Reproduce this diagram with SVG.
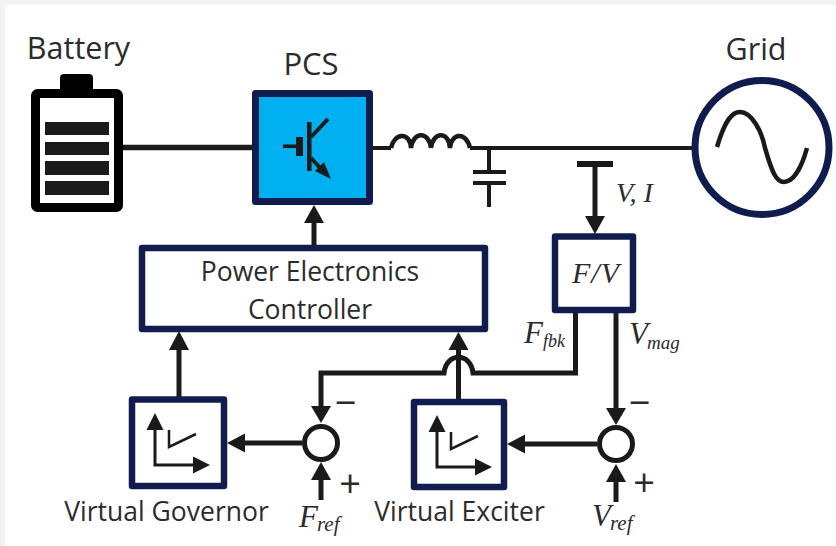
<svg xmlns="http://www.w3.org/2000/svg" width="836" height="546" viewBox="0 0 836 546">
<style>
.lbl{font-family:"Open Sans","Noto Sans",sans-serif;fill:#2b2b2b;text-anchor:middle}
.m{font-family:"Liberation Serif",serif;font-style:italic;fill:#2b2b2b}
.box{fill:#fff;stroke:#111c4e;stroke-width:6.5;stroke-linejoin:round}
.w{fill:none;stroke:#1a1a1a;stroke-width:5}
.t{fill:none;stroke:#1a1a1a;stroke-width:3}
.h{fill:#1a1a1a}
.sum{fill:#fff;stroke:#1a1a1a;stroke-width:5}
.bar{fill:#1a1a1a}
</style>
<defs>
<g id="axes"><path class="t" d="M0 12V52H42"/><path class="h" d="M0 0L-8.500 17H8.500Z"/><path class="h" d="M55 52L38 43.500V60.500Z"/><path fill="none" stroke="#1a1a1a" stroke-width="2.500" d="M14 17V34L41 21"/></g>
</defs>
<rect width="836" height="546" fill="#f2f2f2"/>
<rect x="5" y="5" width="831" height="541" fill="#fff"/>
<g id="connectors">
<path class="w" style="stroke-width:5.500" d="M123 147.500H255"/>
<path class="w" style="stroke-width:4" d="M371 148H391"/>
<path class="w" style="stroke-width:4.500" d="M391 148C394 133 410 131 411 148M411 148C413 131 429 131 431 148M431 148C433 131 449 131 450 148C451 133 466 131 470 148"/>
<path class="w" style="stroke-width:4" d="M470 148H694"/>
<path class="t" style="stroke-width:4" d="M489 148V171M473 172H506M473 183H506M489 183V207"/>
<path class="bar" d="M577 161H613V167H577Z"/>
<path class="w" d="M595 164V218"/><path class="h" d="M595 234L585 216H605Z"/>
<path class="w" d="M314 245V220"/><path class="h" d="M314 205L304 223H324Z"/>
<path class="w" d="M179 397V348"/><path class="h" d="M179 331L169 350H189Z"/>
<path class="w" d="M575.500 313V373H473C471 352 446 352 444 373H321V408"/><path class="h" d="M321 423L311 406H331Z"/>
<path class="w" d="M458.500 399V348"/><path class="h" d="M458.500 332L448.500 350H468.500Z"/>
<path class="w" d="M302 443H241"/><path class="h" d="M227 443L245 433.500V452.500Z"/>
<path class="w" d="M321 500V478"/><path class="h" d="M321 462L311 480H331Z"/>
<path class="w" d="M616 313V410"/><path class="h" d="M616 425L606 408H626Z"/>
<path class="w" d="M597 444H523"/><path class="h" d="M507 444L525 434.500V453.500Z"/>
<path class="w" d="M616 502V480"/><path class="h" d="M616 464L606 482H626Z"/>
</g>
<g id="battery">
<path d="M60 92V78Q60 74 64 74H89Q93 74 93 78V92Z" fill="#000"/>
<rect x="35.500" y="93.500" width="83" height="114" rx="2" fill="#fff" stroke="#000" stroke-width="9"/>
<rect class="bar" x="45" y="122" width="64" height="13"/><rect class="bar" x="45" y="142" width="64" height="13"/><rect class="bar" x="45" y="161" width="64" height="14"/><rect class="bar" x="45" y="181" width="64" height="14"/>
<text class="lbl" x="78.500" y="59" font-size="30.500">Battery</text>
</g>
<g id="pcs">
<rect x="255.500" y="93.500" width="114" height="108" fill="#00b0f0" stroke="#111c4e" stroke-width="7" stroke-linejoin="round"/>
<path class="bar" d="M307 122H311.500V171H307ZM296 137H303V156H296ZM283 144.500H296V148H283Z"/>
<path class="w" style="stroke-width:4" d="M311 137L328 119M311 158L322 170"/><path class="h" d="M331 179L315 171L324 162Z"/>
<text class="lbl" x="311" y="75" font-size="31">PCS</text>
</g>
<g id="grid">
<circle cx="762" cy="147.500" r="67" fill="#fff" stroke="#111c4e" stroke-width="7"/>
<path fill="none" stroke="#1a1a1a" stroke-width="4.500" d="M717 147C725 120 732 112 740 112C752 112 762 132 765 148C772 172 776 182 784 182C794 182 802 166 807 148"/>
<text class="lbl" x="756" y="60" font-size="30.500">Grid</text>
</g>
<g id="fv">
<rect class="box" x="555" y="236.500" width="78" height="73.500"/>
<text class="m" x="596" y="283" font-size="30" letter-spacing="1" text-anchor="middle">F/V</text>
</g>
<g id="controller">
<rect class="box" x="142" y="248" width="343" height="81"/>
<text class="lbl" x="310" y="281" font-size="26.500">Power Electronics</text>
<text class="lbl" x="310" y="319" font-size="26.500">Controller</text>
</g>
<g id="governor">
<rect class="box" x="132" y="399.500" width="92" height="86.500"/>
<use href="#axes" x="155" y="413"/>
<text class="lbl" x="166.500" y="521" font-size="26.500">Virtual Governor</text>
</g>
<g id="exciter">
<rect class="box" x="414" y="402" width="90" height="85"/>
<use href="#axes" x="437" y="415"/>
<text class="lbl" x="459.500" y="521" font-size="26.500">Virtual Exciter</text>
</g>
<g id="sum-f">
<circle class="sum" cx="321" cy="443" r="16.500"/>
<text class="lbl" x="345.500" y="416" font-size="38">−</text>
<text class="lbl" x="350" y="497" font-size="38">+</text>
</g>
<g id="sum-v">
<circle class="sum" cx="616" cy="444" r="16.500"/>
<text class="lbl" x="639.500" y="416" font-size="38">−</text>
<text class="lbl" x="644" y="496" font-size="38">+</text>
</g>
<g id="labels">
<text class="m" x="616" y="202" font-size="28">V, I</text>
<text class="m" x="524" y="343" font-size="31">F<tspan font-size="18" dy="4">fbk</tspan></text>
<text class="m" x="629" y="344" font-size="31">V<tspan font-size="19" dy="5" dx="-1">mag</tspan></text>
<text class="m" x="299" y="527" font-size="31">F<tspan font-size="21" dy="4" dx="-1">ref</tspan></text>
<text class="m" x="592" y="526" font-size="31">V<tspan font-size="21" dy="4" dx="-1">ref</tspan></text>
</g>
</svg>
